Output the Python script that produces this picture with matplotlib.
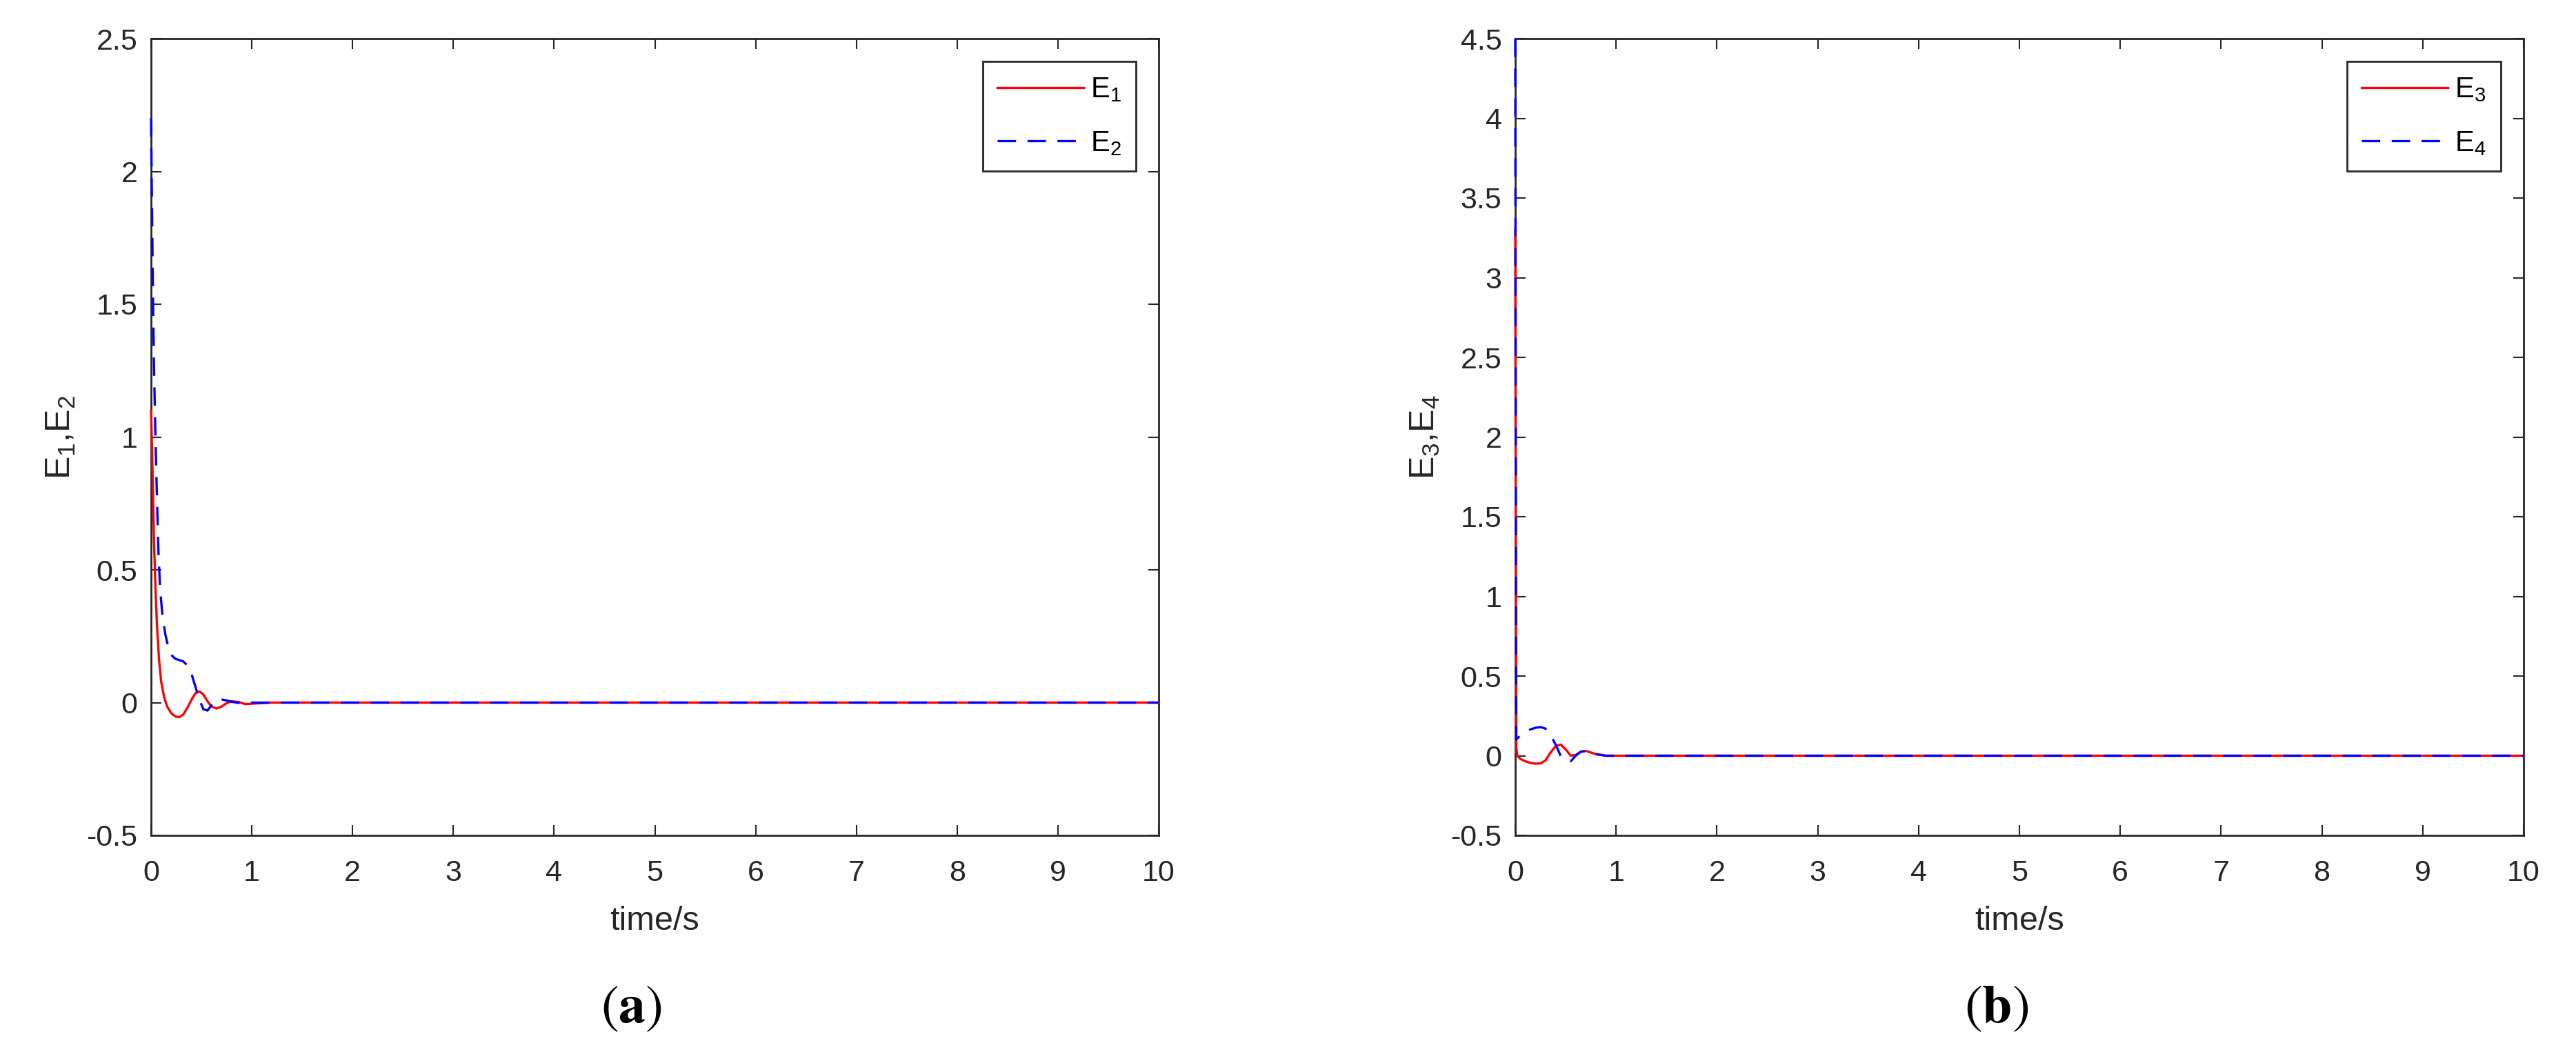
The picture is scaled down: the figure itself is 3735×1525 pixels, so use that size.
import numpy as np
import matplotlib
matplotlib.use("Agg")
import matplotlib.pyplot as plt

plt.rcParams['font.family'] = ['Liberation Sans', 'DejaVu Sans']
plt.rcParams['mathtext.fontset'] = 'custom'
plt.rcParams['mathtext.rm'] = 'Liberation Sans'
plt.rcParams['mathtext.it'] = 'Liberation Sans'

# panel (a)
t_e1 = [0, 0.01, 0.02, 0.03, 0.045, 0.06, 0.08, 0.1, 0.13, 0.16, 0.2, 0.24, 0.28, 0.32,
        0.36, 0.4, 0.44, 0.48, 0.52, 0.56, 0.6, 0.65, 0.7, 0.75, 0.8, 0.87, 0.94, 1.0, 1.2, 10]
e1 = [1.1, 0.95, 0.78, 0.6, 0.42, 0.28, 0.16, 0.08, 0.02, -0.015, -0.04, -0.052, -0.055, -0.045,
      -0.02, 0.01, 0.035, 0.042, 0.03, 0.005, -0.015, -0.022, -0.015, -0.002, 0.005, 0.002, -0.006, -0.004, 0.0, 0.0]

t_e2 = [0, 0.01, 0.02, 0.03, 0.045, 0.06, 0.075, 0.09, 0.11, 0.14, 0.17, 0.2, 0.24, 0.28, 0.32,
        0.36, 0.4, 0.44, 0.48, 0.52, 0.56, 0.6, 0.65, 0.7, 0.75, 0.8, 0.85, 0.9, 1.0, 10]
e2 = [2.2, 1.85, 1.5, 1.25, 0.98, 0.75, 0.55, 0.43, 0.34, 0.26, 0.21, 0.18, 0.165, 0.16, 0.155,
      0.14, 0.11, 0.06, 0.01, -0.025, -0.03, -0.01, 0.01, 0.012, 0.008, 0.003, 0.0, -0.003, 0.0, 0.0]

# panel (b)
t_e3 = [0, 0.005, 0.01, 0.02, 0.05, 0.1, 0.15, 0.2, 0.25, 0.3, 0.35, 0.4, 0.45, 0.5, 0.55,
        0.6, 0.65, 0.7, 0.75, 0.8, 0.9, 1.0, 10]
e3 = [3.3, 1.5, 0.05, 0.0, -0.02, -0.035, -0.045, -0.05, -0.048, -0.03, 0.02, 0.06, 0.07, 0.04, 0.0,
      0.005, 0.025, 0.03, 0.02, 0.01, 0.0, 0.0, 0.0]

t_e4 = [0, 0.005, 0.01, 0.03, 0.06, 0.1, 0.15, 0.2, 0.25, 0.3, 0.35, 0.4, 0.45, 0.5, 0.55,
        0.6, 0.65, 0.7, 0.75, 0.8, 0.9, 1.0, 10]
e4 = [4.5, 2.0, 0.1, 0.115, 0.13, 0.15, 0.165, 0.175, 0.18, 0.17, 0.13, 0.07, 0.0, -0.03, -0.035,
      0.0, 0.025, 0.03, 0.02, 0.01, 0.0, 0.0, 0.0]

W, H = 3735, 1525
fig = plt.figure(figsize=(W / 100, H / 100), dpi=100)

dark = '#262626'


def make_axes(x0, x1, y0, y1):
    ax = fig.add_axes([x0 / W, 1 - y1 / H, (x1 - x0) / W, (y1 - y0) / H])
    for s in ax.spines.values():
        s.set_linewidth(2.0)
        s.set_color(dark)
    ax.tick_params(direction='in', length=11, width=1.5, colors=dark, labelsize=31,
                   top=True, right=True)
    ax.tick_params(axis='x', pad=25)
    ax.tick_params(axis='y', pad=14)
    return ax


def panel(ax, t1, y1, t2, y2, lab1, lab2, ylabel, ymax, yticks):
    ax.plot(t1, y1, color='red', lw=2.4, label=lab1, zorder=3, clip_on=False)
    ax.plot(t2, y2, color='blue', lw=2.4, ls='--', dashes=(8, 5), label=lab2, zorder=3,
            clip_on=False)
    ax.set_xlim(0, 10)
    ax.set_ylim(-0.5, ymax)
    ax.set_xticks(range(0, 11))
    ax.set_yticks(yticks)
    ax.set_yticklabels([('%g' % v) for v in yticks])
    ax.set_xlabel('time/s', fontsize=35, color=dark, labelpad=20)
    ax.set_ylabel(ylabel, fontsize=36, color=dark, labelpad=10)
    leg = ax.legend(loc='upper right', fontsize=30, fancybox=False, framealpha=1,
                    edgecolor=dark, handlelength=3.0, handletextpad=0.25,
                    labelspacing=0.9, borderaxespad=0.8, borderpad=0.5)
    leg.get_frame().set_linewidth(2.0)


ax1 = make_axes(219, 1680, 56, 1211)
panel(ax1, t_e1, e1, t_e2, e2, r'$\mathregular{E_1}$', r'$\mathregular{E_2}$',
      r'$\mathregular{E_1}$,$\mathregular{E_2}$', 2.5, np.arange(-0.5, 2.51, 0.5))

ax2 = make_axes(2197, 3659, 56, 1211)
panel(ax2, t_e3, e3, t_e4, e4, r'$\mathregular{E_3}$', r'$\mathregular{E_4}$',
      r'$\mathregular{E_3}$,$\mathregular{E_4}$', 4.5, np.arange(-0.5, 4.51, 0.5))

fig.text(915 / W, 1 - 1462 / H, r'$(\mathbf{a})$', fontsize=56, ha='center', va='center',
         math_fontfamily='stix')
fig.text(2895 / W, 1 - 1462 / H, r'$(\mathbf{b})$', fontsize=56, ha='center', va='center',
         math_fontfamily='stix')

fig.savefig('out.png', dpi=100)
